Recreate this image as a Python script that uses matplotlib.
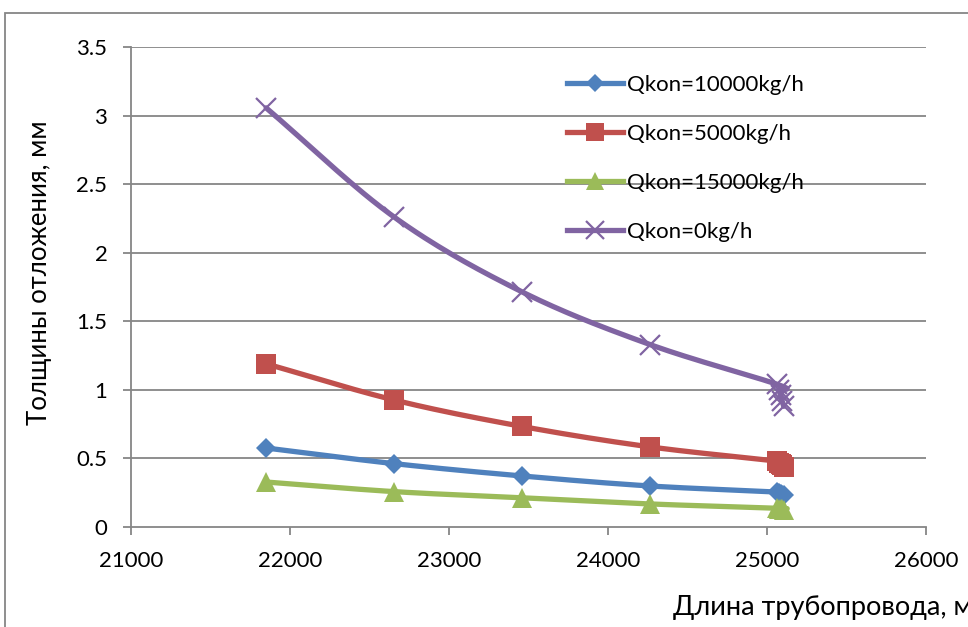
import numpy as np
import matplotlib.pyplot as plt
from matplotlib.patches import Rectangle

# pipeline length, m (last few points crowd together near the end)
length = [21850, 22655, 23460, 24265, 25065, 25075, 25085, 25095, 25105]

# deposit thickness, mm
q10000 = [0.576, 0.462, 0.372, 0.299, 0.255, 0.248, 0.242, 0.236, 0.230]
q5000 = [1.19, 0.926, 0.733, 0.584, 0.48, 0.47, 0.46, 0.45, 0.44]
q15000 = [0.328, 0.258, 0.213, 0.168, 0.137, 0.134, 0.131, 0.128, 0.125]
q0 = [3.056, 2.26, 1.714, 1.33, 1.04, 1.00, 0.96, 0.92, 0.88]

labels = ['Qkon=10000kg/h', 'Qkon=5000kg/h', 'Qkon=15000kg/h', 'Qkon=0kg/h']
colors = ['#4F81BD', '#C0504D', '#9BBB59', '#8064A2']
markers = ['D', 's', '^', 'x']
msizes = [10, 14, 14, 14]


def smooth(x, y, n=30):
    # catmull-rom through the points, like excel's smoothed lines
    x = np.asarray(x, float)
    y = np.asarray(y, float)
    px = np.concatenate([[2 * x[0] - x[1]], x, [2 * x[-1] - x[-2]]])
    py = np.concatenate([[2 * y[0] - y[1]], y, [2 * y[-1] - y[-2]]])
    t = np.linspace(0, 1, n)
    xs, ys = [], []
    for i in range(1, len(px) - 2):
        for p, out in ((px, xs), (py, ys)):
            p0, p1, p2, p3 = p[i - 1], p[i], p[i + 1], p[i + 2]
            out.extend(0.5 * (2 * p1 + (-p0 + p2) * t
                              + (2 * p0 - 5 * p1 + 4 * p2 - p3) * t ** 2
                              + (-p0 + 3 * p1 - 3 * p2 + p3) * t ** 3))
    return xs, ys


plt.rcParams['font.family'] = ['Lato', 'DejaVu Sans']

fig = plt.figure(figsize=(9.68, 6.27), dpi=100)
ax = fig.add_axes([131 / 968, 1 - 527 / 627, 795 / 968, 480 / 627])

grey = '#868686'
for yv in np.arange(0.5, 3.51, 0.5):
    ax.axhline(yv, color=grey, lw=1.3, zorder=0)

for ys, lab, c, m, ms in zip([q10000, q5000, q15000, q0], labels, colors, markers, msizes):
    sx, sy = smooth(length, ys)
    ax.plot(sx, sy, color=c, lw=3.8, solid_capstyle='round', zorder=2)
    if m == 'x':
        ax.plot(length, ys, ls='none', marker=m, ms=ms, mew=1.6, color=c, zorder=3)
    else:
        ax.plot(length, ys, ls='none', marker=m, ms=ms, mew=0, color=c, zorder=3)
    # legend proxy
    ax.plot([], [], color=c, lw=3.8, marker=m, ms=ms * 0.9,
            mew=1.6 if m == 'x' else 0, label=lab)

ax.set_xlim(21000, 26000)
ax.set_ylim(0, 3.5)
ax.set_xticks(range(21000, 26001, 1000))
ax.set_yticks(np.arange(0, 3.51, 0.5))
ax.set_yticklabels(['0', '0.5', '1', '1.5', '2', '2.5', '3', '3.5'])

for s in ['top', 'right']:
    ax.spines[s].set_visible(False)
for s in ['left', 'bottom']:
    ax.spines[s].set_color(grey)
    ax.spines[s].set_linewidth(1.3)
ax.tick_params(axis='both', direction='out', length=6, width=1.3, color=grey,
               labelsize=16, pad=11)

ax.legend(loc='upper left', bbox_to_anchor=(0.549, 0.942), frameon=False,
          fontsize=16, handlelength=2.5, handletextpad=0.2, labelspacing=1.3,
          borderaxespad=0, borderpad=0)

fig.text(40 / 968, 1 - 273 / 627, 'Толщины отложения, мм', rotation=90,
         ha='center', va='center', fontsize=18.5)
fig.text(673 / 968, 1 - 607 / 627, 'Длина трубопровода, м', ha='left',
         va='center', fontsize=19.5)

# outer chart frame
fig.patches.append(Rectangle((5 / 968, -0.1), 1.2, 1 - 13 / 627 + 0.1,
                             transform=fig.transFigure, fill=False,
                             edgecolor=grey, lw=1.3))

fig.savefig('out.png', dpi=100)
